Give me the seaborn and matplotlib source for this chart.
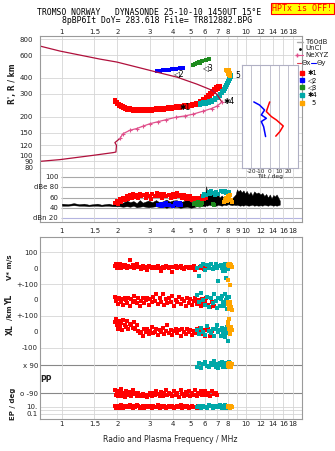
import numpy as np
import pandas as pd
import matplotlib
matplotlib.use("Agg")
import matplotlib.pyplot as plt
from matplotlib.ticker import NullLocator, FixedLocator, FixedFormatter
from matplotlib.lines import Line2D
import seaborn as sns

nan = np.nan
# ---------------- data ----------------
freq_ticks = [1, 1.5, 2, 3, 4, 5, 6, 7, 8, 9, 10, 12, 14, 16, 18]
freq_labels_top = ["1", "1.5", "2", "3", "4", "5", "6", "7", "8", "", "10", "12", "14", "16", "18"]
freq_labels_mid = ["1", "1.5", "2", "3", "4", "5", "6", "7", "8", "9", "10", "12", "14", "16", "18"]
height_ticks = [80, 90, 100, 120, 150, 200, 300, 400, 600, 800]

# electron density profile (real height) and trace line
prof_lo_f = [0.76, 0.975, 1.48, 1.90, 1.966, 1.98, 1.941, 2.067]
prof_lo_h = [89.6, 92.4, 99.8, 104.8, 105.9, 119.5, 125.4, 135.0]
ne_f = [2.067, 2.146, 2.342, 2.547, 2.755, 3.008, 3.325, 3.674, 4.166, 4.661, 5.152, 5.838, 6.509, 6.957, 7.41]
ne_h = [135.0, 146.9, 156.5, 161.3, 168.2, 175.9, 182.4, 189.0, 197.7, 202.4, 208.7, 220.2, 231.2, 241.0, 259.0]
up_f = [7.41, 6.957, 6.53, 6.138, 5.418, 4.217, 3.28, 2.557, 1.99, 1.609, 0.975, 0.759]
up_h = [259, 299, 321, 333, 358, 406, 444, 486, 532, 561, 648, 709]

# echo traces in the R' panel
red_main_f = [1.94, 1.94, 1.99, 1.99, 2.04, 2.04, 2.09, 2.09, 2.15, 2.15, 2.20, 2.20, 2.26, 2.26,
              2.34, 2.34, 2.43, 2.43, 2.53, 2.53, 2.65, 2.65, 2.79, 2.79, 2.93, 2.93, 3.09, 3.09,
              3.24, 3.24, 3.41, 3.41, 3.59, 3.59, 3.77, 3.77, 3.96, 3.96, 4.17, 4.17, 4.38, 4.38,
              4.60, 4.60, 4.84, 4.84, 5.09, 5.09, 5.35, 5.35, 5.62, 5.62, 5.84, 5.84, 6.06, 6.06,
              6.22, 6.22, 6.37, 6.37, 6.53, 6.53, 6.70, 6.70, 6.87, 6.87, 7.04, 7.04, 7.22, 7.22]
red_main_h = [268, 259, 259, 250, 250, 241, 245, 237, 241, 232, 237, 228, 232, 224,
              232, 224, 228, 220, 228, 220, 228, 220, 228, 220, 228, 220, 228, 220,
              232, 224, 232, 224, 232, 224, 237, 228, 237, 228, 241, 232, 241, 232,
              245, 237, 245, 237, 250, 241, 254, 245, 264, 254, 273, 259, 283, 268,
              294, 278, 304, 289, 316, 299, 327, 310, 339, 321, 345, 327, 345, 333]
cyan_main_f = [5.62, 5.84, 6.06, 6.29, 6.53, 6.79, 7.04, 7.22, 7.41, 7.59, 7.69, 7.79, 7.88, 7.98, 8.08, 8.19, 8.29,
               5.62, 5.84, 6.06, 6.29, 6.53, 6.79, 7.04, 7.22, 7.41, 7.59, 7.69, 7.79, 7.88, 7.98, 8.08, 8.19, 8.29]
cyan_main_h = [254, 259, 259, 264, 268, 278, 289, 299, 316, 327, 339, 351, 364, 378, 392, 406, 421,
               245, 250, 250, 254, 259, 268, 278, 289, 305, 316, 327, 339, 351, 364, 378, 392, 406]
blue_main_f = [3.28, 3.41, 3.54, 3.67, 3.82, 3.96, 4.17, 4.38, 4.55]
blue_main_h = [452, 452, 460, 460, 460, 469, 469, 477, 477]
green_main_f = [5.15, 5.28, 5.42, 5.56, 5.62, 5.77, 6.06, 6.29]
green_main_h = [504, 513, 522, 532, 522, 541, 551, 561]
orange_main_f = [7.79, 7.88, 7.98, 8.08, 8.19, 7.98, 8.08, 8.19]
orange_main_h = [460, 452, 444, 460, 436, 428, 421, 413]

# tilt inset
thx_deg = [0, -1.8, -3.6, 1.8, 7.3, 14.5, 10.9, 6.5]
thx_h = [259, 238, 218, 199, 187, 168, 152, 140]
thy_deg = [-17, -10.9, -5.5, -9, -3.6, -9, -6.5, -4.4]
thy_h = [259, 245, 224, 205, 193, 182, 166, 139]

# amplitude panel
noise_f = [1.00, 1.08, 1.16, 1.24, 1.32, 1.40, 1.48, 1.56, 1.64, 1.72,
           1.80, 1.88, 1.96, 2.05, 2.15, 2.25, 2.35, 2.45, 2.55, 2.65,
           2.75, 2.85, 2.95, 3.1, 3.25, 3.4, 3.55, 3.7, 3.85, 4.0,
           4.2, 4.4, 4.6, 4.8, 5.0, 5.2, 5.4, 5.6, 5.8, 6.0,
           6.08, 6.16, 6.3, 6.45, 6.6, 6.75, 6.9, 7.05, 7.2, 7.4,
           7.6, 7.8, 8.0, 8.2, 8.4, 8.6, 8.8, 8.95, 9.1, 9.3,
           9.5, 9.7, 9.9, 10.1, 10.35, 10.6, 10.85, 11.1, 11.4, 11.7,
           12.0, 12.3, 12.6, 12.9, 13.2, 13.5, 13.8, 14.1, 14.4, 14.7,
           15.0, 15.3]
noise_top = [48, 47, 49, 47, 48, 46, 47, 48, 46, 47,
             48, 46, 49, 52, 50, 54, 51, 53, 49, 55,
             50, 52, 54, 51, 55, 50, 53, 56, 52, 54,
             55, 51, 53, 57, 52, 50, 54, 52, 56, 58,
             82, 72, 66, 70, 64, 68, 62, 66, 60, 64,
             58, 62, 56, 60, 58, 62, 66, 76, 72, 75,
             70, 74, 68, 73, 66, 71, 64, 72, 68, 70,
             66, 69, 63, 67, 60, 66, 58, 65, 62, 66,
             60, 54]
noise_bot = [44, 44, 45, 44, 44, 43, 44, 44, 43, 44,
             44, 43, 43, 43, 42, 43, 42, 44, 41, 42,
             43, 42, 41, 42, 43, 41, 42, 40, 42, 41,
             42, 40, 41, 42, 40, 41, 43, 42, 44, 43,
             45, 44, 46, 45, 46, 45, 44, 46, 45, 44,
             46, 45, 47, 46, 45, 46, 45, 46, 45, 44,
             45, 44, 46, 45, 44, 45, 46, 44, 45, 44,
             45, 44, 46, 45, 44, 46, 45, 44, 45, 44,
             45, 46]
red_db_f = [1.95, 2.0, 2.02, 2.08, 2.1, 2.15, 2.2, 2.25, 2.3, 2.35, 2.4, 2.45, 2.5, 2.55, 2.6, 2.65, 2.7,
            2.8, 2.85, 2.9, 3.0, 3.05, 3.1, 3.2, 3.3, 3.35, 3.4, 3.5, 3.6, 3.7, 3.8, 3.9, 4.0, 4.1, 4.2,
            4.3, 4.4, 4.5, 4.6, 4.7, 4.8, 4.9, 5.0, 5.1, 5.2, 5.3, 5.4, 5.5, 5.6, 5.7, 5.8, 5.9, 6.0, 6.1]
red_db = [50, 54, 48, 57, 52, 60, 55, 62, 58, 64, 60, 66, 61, 64, 59, 66, 62,
          65, 60, 67, 63, 58, 66, 62, 68, 63, 66, 60, 67, 62, 65, 59, 66, 61, 68,
          63, 65, 60, 64, 58, 63, 57, 62, 56, 60, 55, 59, 54, 60, 57, 62, 58, 64, 60]
blue_db_f = [3.35, 3.45, 3.5, 3.6, 3.65, 3.7, 3.8, 4.0, 4.1, 4.15, 4.2, 4.3, 4.4, 4.45]
blue_db = [46, 48, 44, 47, 45, 49, 46, 44, 48, 50, 47, 45, 49, 46]
green_db_f = [5.2, 5.3, 5.4, 5.5, 5.6, 5.7, 5.8, 6.6, 6.7]
green_db = [47, 50, 46, 52, 48, 45, 50, 48, 46]
cyan_db_f = [5.85, 5.95, 6.1, 6.3, 6.4, 6.5, 6.6, 6.8, 6.9, 7.1, 7.3, 7.5, 7.7, 7.8, 8.0, 8.1]
cyan_db = [62, 66, 64, 70, 66, 72, 68, 64, 70, 66, 72, 70, 73, 68, 66, 70]
orange_db_f = [7.6, 7.7, 7.8, 7.9, 8.0, 8.1, 8.2, 8.3, 8.4]
orange_db = [52, 56, 60, 54, 62, 58, 64, 56, 52]

# echo parameters (V*, YL, XL, PP, EP)
red_f = [1.95, 1.97, 2.00, 2.02, 2.05, 2.08, 2.10, 2.13, 2.16, 2.20,
         2.23, 2.27, 2.30, 2.34, 2.38, 2.42, 2.46, 2.50, 2.55, 2.60,
         2.65, 2.70, 2.75, 2.80, 2.85, 2.90, 2.96, 3.02, 3.08, 3.14,
         3.20, 3.26, 3.33, 3.40, 3.47, 3.54, 3.61, 3.68, 3.75, 3.83,
         3.91, 3.99, 4.07, 4.15, 4.24, 4.33, 4.42, 4.51, 4.60, 4.70,
         4.80, 4.90, 5.00, 5.10, 5.20, 5.30, 5.40, 5.50, 5.60, 5.70,
         5.80, 5.90, 6.00, 6.10, 6.25, 6.40, 6.55, 6.70, 6.85, 7.00]
red_v = [15, 25, 5, 20, 10, 30, 0, 18, 8, 22,
         12, 5, 15, 50, 8, 20, 3, 12, 25, 6,
         10, -5, 15, 4, 8, -10, 12, 6, 2, 10,
         8, 0, 14, 5, -20, 9, 3, 12, 6, 0,
         10, -25, 7, 12, 2, 9, 15, 4, -5, 10,
         6, 0, 8, 3, 12, -8, 5, 0, 10, 4,
         6, -3, 8, nan, nan, nan, nan, nan, nan, nan]
red_yl = [20, -5, 10, -25, 15, 5, -15, 8, -30, 12,
          0, -20, 10, -35, 5, -10, 25, -5, -18, 10,
          -40, -8, 15, -22, 0, 12, -30, 5, -15, 20,
          -5, 35, -25, 10, -12, 40, -30, 5, -20, 15,
          -10, 25, -35, 0, -15, 18, -28, 8, -5, -40,
          10, -20, 5, -30, -8, 15, -25, 0, -12, -35,
          5, -18, -8, 10, -30, -45, -15, -38, nan, nan]
red_xl = [60, 80, 40, 20, 70, 35, 55, 10, 75, 45,
          30, 65, 20, 50, 40, 25, 60, 15, 45, 5,
          -10, 0, -25, 15, -5, 20, -15, 5, 30, -10,
          0, 15, -20, 10, -5, 25, -15, 5, 40, -8,
          12, -18, 3, 20, -10, 8, -25, 15, 0, -12,
          18, -5, 10, -20, 5, -8, 15, -3, 22, -15,
          0, 8, -25, 10, 20, -30, 5, 15, nan, nan]
red_pp = [-70, -100, -80, -110, -75, -95, -65, -105, -85, -115,
          -75, -90, -100, -80, -110, -70, -95, -85, -105, -90,
          -100, -110, -95, -108, -102, -112, -98, -90, -110, -85,
          -100, -75, -95, -105, -80, -110, -90, -70, -100, -85,
          -95, -110, -78, -100, -88, -112, -70, -95, -105, -82,
          -98, -75, -110, -90, -100, -72, -108, -85, -95, -78,
          -102, -90, -74, -100, -88, -110, -76, -95, -85, -100]
red_ep = [12, 5, 20, 8, 15, 6, 25, 9, 4, 14,
          10, 18, 7, 30, 11, 5, 16, 8, 22, 12,
          6, 10, 15, 4, 9, 20, 7, 13, 5, 18,
          10, 8, 25, 6, 12, 9, 16, 4, 11, 20,
          7, 14, 5, 10, 18, 8, 30, 6, 12, 9,
          15, 5, 11, 20, 7, 10, 4, 13, 8, 16,
          12, nan, nan, nan, nan, nan, nan, nan, nan, nan]
cyan_f = [5.45, 5.55, 5.70, 5.85, 6.00, 6.15, 6.30, 6.45, 6.60, 6.75,
          6.90, 7.00, 7.10, 7.20, 7.30, 7.40, 7.50, 7.60, 7.70, 7.75,
          7.80, 7.85, 7.90, 7.95, 8.05]
cyan_v = [5, -50, 15, 25, -10, 20, 5, 30, -5, 10, 25, 0, -78, 15, 20, 5, -15, 10, 30, -20, -60, 8, 15, -5, 20]
cyan_yl = [30, -10, 45, 0, -30, 20, -45, 10, -20, 35, -5, -50, 15, -35, 5, 25, -15, -40, 40, -25, 0, -55, 10, -20, 20]
cyan_xl = [10, -15, 25, 0, -20, 35, 5, -10, 20, -25, 15, 40, -5, 10, -30, 25, 0, -20, 5, -35, 15, -10, 30, -60, 0]
cyan_pp = [80, 100, 70, 95, 110, 85, 75, 105, 90, 115, 80, 95, 70, 100, 88, 110, 78, 92, 105, 85, 95, 75, 100, 90, 110]
cyan_ep = [8, 15, 5, 20, 10, 6, 25, 12, 4, 18, 9, 14, 7, 30, 11, 5, 16, 8, 22, 12, 6, 10, 15, 4, 9]
orange_f = [7.95, 8.00, 8.05, 8.10, 8.15, 8.20, 8.30, 8.40]
orange_v = [20, -75, 25, 15, 30, -105, 20, 10]
orange_yl = [-10, -25, -40, -55, -30, -15, -45, -60]
orange_xl = [60, 40, 20, 80, 0, -15, 30, 10]
orange_pp = [85, 95, 100, 80, 105, 90, 75, 95]
orange_ep = [10, 14, 8, 20, 12, 6, 16, 9]

# ---------------- style ----------------
sns.set_theme(style="white")
plt.rcParams['font.family'] = ['DejaVu Sans']
plt.rcParams['axes.linewidth'] = 0.8

W, H = 335, 451
fig = plt.figure(figsize=(W / 100, H / 100), dpi=100)
fig.patch.set_facecolor('white')


def rect(x0, y0, x1, y1):
    return [x0 / W, 1 - y1 / H, (x1 - x0) / W, (y1 - y0) / H]


FX = (0.76, 20.2)
GRID = '#d6d6d6'
SPINE = '#9a9a9a'
TXT = '#222222'
RED, BLUE, GREEN, CYAN, ORANGE = '#ff0000', '#0000ff', '#1e8c1e', '#00a8a8', '#ffa500'
MAROON, PINK = '#b0103c', '#e0508c'


def freq_axis(ax, labels, top=False, pad=2):
    ax.set_xscale('log')
    ax.set_xlim(*FX)
    ax.xaxis.set_major_locator(FixedLocator(freq_ticks))
    ax.xaxis.set_major_formatter(FixedFormatter(labels))
    ax.xaxis.set_minor_locator(NullLocator())
    if top:
        ax.xaxis.tick_top()
    ax.tick_params(axis='x', length=0, labelsize=5, pad=pad, colors=TXT)
    ax.grid(True, axis='x', color=GRID, lw=0.6)
    ax.set_axisbelow(True)
    for s in ax.spines.values():
        s.set_color(SPINE)
        s.set_linewidth(0.8)
    ax.set_xlabel('')
    ax.set_ylabel('')


def sq(ax, x, y, c, s=6.5):
    sns.scatterplot(x=x, y=y, ax=ax, color=c, marker='s', s=s, linewidth=0, legend=False)


# ---------------- main R' panel ----------------
ax1 = fig.add_axes(rect(40, 36, 302, 172))
ax1.set_xscale('log')
ax1.set_yscale('log')
sns.lineplot(x=prof_lo_f, y=prof_lo_h, ax=ax1, sort=False, estimator=None, color=MAROON, lw=0.9)
sns.lineplot(x=up_f, y=up_h, ax=ax1, sort=False, estimator=None, color=MAROON, lw=0.9)
sns.lineplot(x=ne_f, y=ne_h, ax=ax1, sort=False, estimator=None, color=PINK, lw=0.9,
             marker='+', markersize=3.5, markeredgewidth=0.8, markeredgecolor=PINK)
sq(ax1, red_main_f, red_main_h, RED, s=5.5)
sq(ax1, cyan_main_f, cyan_main_h, CYAN, s=5.5)
sq(ax1, blue_main_f, blue_main_h, BLUE, s=5.5)
sq(ax1, green_main_f, green_main_h, GREEN, s=5.5)
sq(ax1, orange_main_f, orange_main_h, ORANGE, s=5.5)
for (tf, th, t) in [(4.38, 236, '✱1'), (4.06, 436, '◁2'), (5.84, 482, '◁3'), (7.59, 264, '✱4'), (8.75, 421, '5')]:
    ax1.text(tf, th, t, fontsize=5.5, color='black', ha='left', va='center')
freq_axis(ax1, freq_labels_top, top=True, pad=0.5)
ax1.set_ylim(74, 849)
ax1.yaxis.set_major_locator(FixedLocator(height_ticks))
ax1.yaxis.set_major_formatter(FixedFormatter([str(v) for v in height_ticks]))
ax1.yaxis.set_minor_locator(NullLocator())
ax1.tick_params(axis='y', length=0, labelsize=5, pad=5, colors=TXT)
ax1.grid(True, axis='y', color=GRID, lw=0.6)
ax1.spines['bottom'].set_visible(False)

# ---------------- amplitude panel ----------------
ax2 = fig.add_axes(rect(40, 172, 302, 222))
ax2.patch.set_alpha(0)
ax2.set_xscale('log')
ax2.fill_between(noise_f, noise_bot, noise_top, color='black', lw=0.3)
sq(ax2, red_db_f, red_db, RED)
sq(ax2, blue_db_f, blue_db, BLUE)
sq(ax2, green_db_f, green_db, GREEN)
sq(ax2, cyan_db_f, cyan_db, CYAN)
sq(ax2, orange_db_f, orange_db, ORANGE)
freq_axis(ax2, freq_labels_mid, pad=4)
ax2.set_ylim(12.2, 109.8)
ax2.set_yticks([])
for lev, lab, col in [(100, '100', '#a8a8a8'), (80, 'dBe 80', '#a8a8a8'), (60, '60', '#a8a8a8'),
                      (40, '40', '#a8a8a8'), (20, 'dBn 20', '#b4b4e0')]:
    ax2.hlines(lev, 0.99, FX[1], color=col, lw=0.8, zorder=0.5)
    ax2.text(0.955, lev, lab, fontsize=5, ha='right', va='center', color=TXT)
ax2.spines['top'].set_visible(False)

# tilt inset (drawn over the R' panel)
axi = fig.add_axes(rect(241.7, 65, 297.7, 168), zorder=5)
axi.set_facecolor('white')
sns.lineplot(x=thx_deg, y=thx_h, ax=axi, sort=False, estimator=None, color=RED, lw=1.1)
sns.lineplot(x=thy_deg, y=thy_h, ax=axi, sort=False, estimator=None, color=BLUE, lw=1.1)
axi.set_yscale('log')
axi.set_ylim(79, 503)
axi.set_xlim(-30, 30)
axi.set_xticks([-20, -10, 0, 10, 20])
axi.set_xticklabels(['-20', '-10', '0', '10', '20'])
axi.set_yticks([])
axi.yaxis.set_minor_locator(NullLocator())
axi.tick_params(axis='x', length=0, labelsize=4.2, pad=0.5, colors=TXT)
axi.grid(True, axis='x', color='#b8b8c8', lw=0.6)
axi.set_xlabel('Tilt / deg', fontsize=4.2, labelpad=0, color=TXT)
axi.set_ylabel('')
for s in axi.spines.values():
    s.set_color('#b0b0c4')
    s.set_linewidth(0.8)

# ---------------- echo parameter panel ----------------
ax3 = fig.add_axes(rect(40, 237.3, 302, 419.3))
ax3.set_xscale('log')
K = 0.1585
V0, YL0, XL0 = 31.0, 62.7, 94.4


def u_lin(vals, base):
    return [base - v * K for v in vals]


def u_pp(vals):
    return [141.85 - v * 0.1572 for v in vals]


def u_ep(vals):
    return [169.4 - (np.log10(v) - 1) * 3.65 for v in vals]


for f, v, yl, xl, pp, ep, c in [(red_f, red_v, red_yl, red_xl, red_pp, red_ep, RED),
                                (cyan_f, cyan_v, cyan_yl, cyan_xl, cyan_pp, cyan_ep, CYAN),
                                (orange_f, orange_v, orange_yl, orange_xl, orange_pp, orange_ep, ORANGE)]:
    sq(ax3, f, u_lin(v, V0), c)
    sq(ax3, f, u_lin(yl, YL0), c)
    sq(ax3, f, u_lin(xl, XL0), c)
    sq(ax3, f, u_pp(pp), c)
    sq(ax3, f, u_ep(ep), c)

freq_axis(ax3, freq_labels_top, pad=1.5)
ax3.set_ylim(182, 0)
ytick_u = [V0 - 100 * K, V0, V0 + 100 * K, YL0, YL0 + 100 * K, XL0, XL0 + 100 * K,
           u_pp([90])[0], u_pp([-90])[0], u_ep([10])[0], u_ep([0.1])[0]]
ytick_l = ['100', '0', '+-100', '0', '+-100', '0', '-100', 'x 90', 'o -90', '10.', '0.1']
ax3.set_yticks(ytick_u)
ax3.set_yticklabels(ytick_l)
ax3.tick_params(axis='y', length=0, labelsize=5, pad=1.5, colors=TXT)
for u in [V0 - 100 * K, V0 + 100 * K, YL0 + 100 * K, XL0 + 100 * K, u_ep([10])[0], u_ep([1])[0], u_ep([0.1])[0]]:
    ax3.axhline(u, color=GRID, lw=0.6, zorder=0.5)
for u in [u_pp([90])[0], u_pp([-90])[0]]:
    ax3.axhline(u, color='#888888', lw=0.8, zorder=0.5)

# ---------------- overlay texts ----------------
ov = fig.add_axes([0, 0, 1, 1], zorder=10)
ov.set_xlim(0, W)
ov.set_ylim(H, 0)
ov.axis('off')
ov.patch.set_alpha(0)
mono = 'DejaVu Sans Mono'
ov.text(149, 12.5, 'TROMSO NORWAY   DYNASONDE 25-10-10 1450UT 15°E', family=mono, fontsize=5.9,
        ha='center', va='center', color='black')
ov.text(157, 20.5, '8pBP6It DoY= 283.618 File= TR812882.BPG', family=mono, fontsize=5.9,
        ha='center', va='center', color='black')
ov.text(302.5, 8.3, 'HPTx is OFF!', family=mono, fontsize=6, color='#ff0000', ha='center', va='center',
        bbox=dict(boxstyle='square,pad=0.15', fc='#ffff00', ec='#ff0000', lw=0.8))

ov.text(13, 84, "R', R / km", rotation=90, fontsize=5.5, ha='center', va='center', color=TXT, fontweight='bold')
ov.text(10, 267, 'V* m/s', rotation=90, fontsize=5, ha='center', va='center', color=TXT, fontweight='bold')
ov.text(10, 300, 'YL', rotation=90, fontsize=5.5, ha='center', va='center', color=TXT, fontweight='bold')
ov.text(10, 313, '/km', rotation=90, fontsize=5, ha='center', va='center', color=TXT, fontweight='bold')
ov.text(10, 330, 'XL', rotation=90, fontsize=5.5, ha='center', va='center', color=TXT, fontweight='bold')
ov.text(46, 379, 'PP', fontsize=5.5, ha='center', va='center', color=TXT, fontweight='bold')
ov.text(13, 404, 'EP / deg', rotation=90, fontsize=5, ha='center', va='center', color=TXT, fontweight='bold')
ov.text(170, 439.5, 'Radio and Plasma Frequency / MHz', fontsize=5.5, ha='center', va='center', color=TXT)

# legend
lx = 305
ov.add_line(Line2D([297, 303], [42, 42], color='#aaaaaa', lw=1))
ov.text(lx, 42, 'T60dB', fontsize=5, va='center', ha='left', color=TXT)
ov.add_line(Line2D([300], [48.5], color='black', marker='.', markersize=2, lw=0))
ov.text(lx, 48.5, 'UnCl', fontsize=5, va='center', ha='left', color=TXT)
ov.add_line(Line2D([297, 303], [55, 55], color=PINK, lw=0.8, marker='+', markevery=[0], markersize=3))
ov.text(lx, 55, 'NeXYZ', fontsize=5, va='center', ha='left', color=TXT)
ov.add_line(Line2D([297, 301], [63, 63], color='#e04050', lw=0.8))
ov.text(301.5, 63, 'Θx', fontsize=5, va='center', ha='left', color=TXT)
ov.add_line(Line2D([311, 316], [63, 63], color=BLUE, lw=0.8))
ov.text(316.5, 63, 'Θy', fontsize=5, va='center', ha='left', color=TXT)
for yy, c, t, tx in [(72.7, RED, '✱1', 308), (80, BLUE, '◁2', 308), (87.3, GREEN, '◁3', 308),
                     (95, CYAN, '✱4', 308), (103.3, ORANGE, '5', 311)]:
    ov.add_line(Line2D([302], [yy], color=c, marker='s', markersize=2.2, lw=0))
    ov.text(tx, yy, t, fontsize=4.8, va='center', ha='left', color='black')

fig.savefig('out.png', dpi=100, facecolor='white')
